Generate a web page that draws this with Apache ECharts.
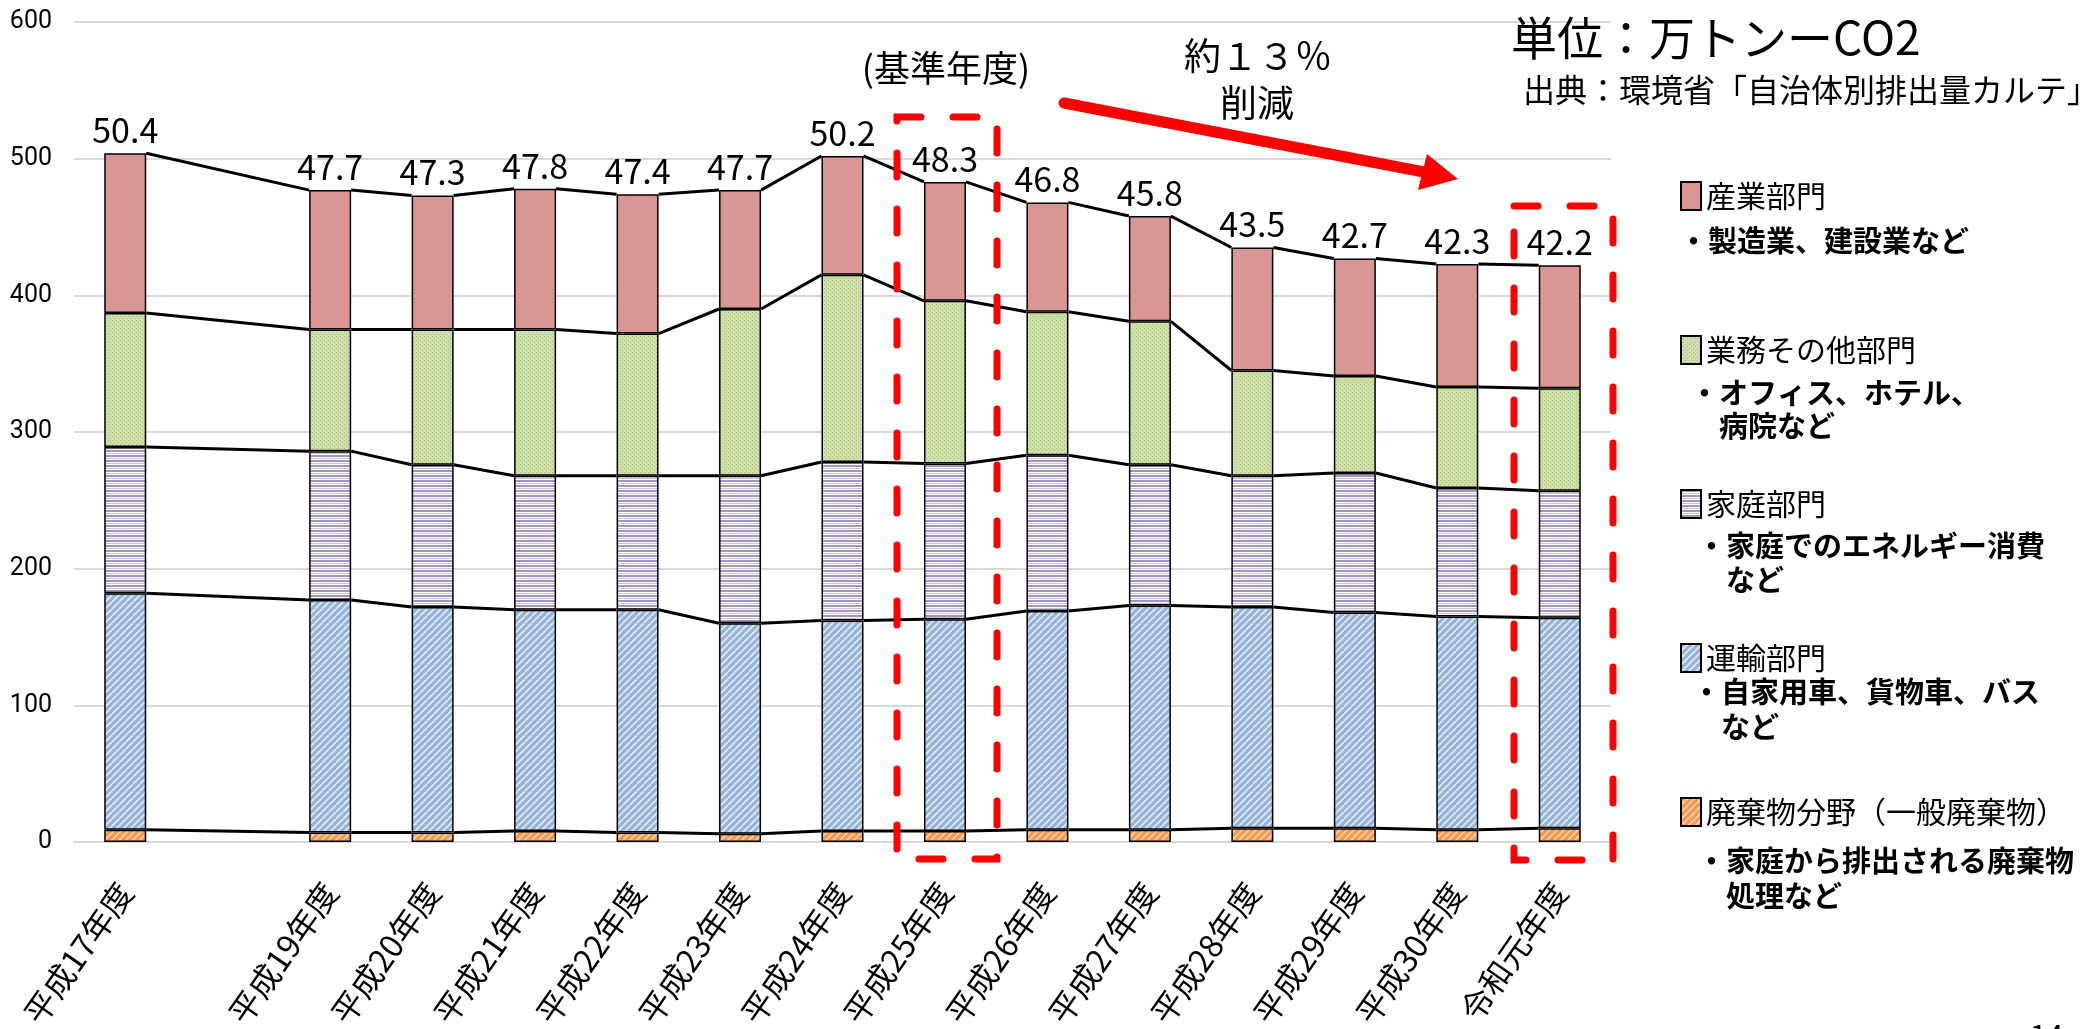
<!DOCTYPE html>
<html lang="ja">
<head>
<meta charset="utf-8">
<title>部門別CO2排出量の推移</title>
<script src="https://cdn.jsdelivr.net/npm/echarts@6/dist/echarts.min.js"></script>
<style>
  html, body { margin: 0; padding: 0; background: #fff; }
  #chart { width: 2090px; height: 1029px; }
</style>
</head>
<body>
<div id="chart"></div>
<script>
// 年度（平成18年度はデータなし・ラベルなし）
const years = ['平成17年度', '平成18年度', '平成19年度', '平成20年度', '平成21年度', '平成22年度',
  '平成23年度', '平成24年度', '平成25年度', '平成26年度', '平成27年度', '平成28年度',
  '平成29年度', '平成30年度', '令和元年度'];
const hiddenYears = ['平成18年度'];

// 部門別排出量（千トン-CO2）
const waste      = [9, null, 7, 7, 8, 7, 6, 8, 8, 9, 9, 10, 10, 9, 10];
const transport  = [173, null, 170, 165, 162, 163, 154, 154, 155, 160, 164, 162, 158, 156, 154];
const household  = [107, null, 109, 104, 98, 98, 108, 116, 114, 114, 103, 96, 102, 94, 93];
const commercial = [98, null, 89, 99, 107, 104, 122, 137, 119, 105, 105, 77, 71, 74, 75];
const industry   = [117, null, 102, 98, 103, 102, 87, 87, 87, 80, 77, 90, 86, 90, 90];

// 合計（万トン-CO2）
const totals = ['50.4', null, '47.7', '47.3', '47.8', '47.4', '47.7', '50.2', '48.3', '46.8',
  '45.8', '43.5', '42.7', '42.3', '42.2'];

// 凡例の説明
const notes = {
  '産業部門': ['・製造業、建設業など'],
  '業務その他部門': ['・オフィス、ホテル、', '病院など'],
  '家庭部門': ['・家庭でのエネルギー消費', 'など'],
  '運輸部門': ['・自家用車、貨物車、バス', 'など'],
  '廃棄物分野（一般廃棄物）': ['・家庭から排出される廃棄物', '処理など']
};

const BAR_W = 42;
const JP = '"Noto Sans CJK JP", "Noto Sans", sans-serif';

// 模様（ハッチング）
function pattern(w, h, draw) {
  const c = document.createElement('canvas');
  c.width = w;
  c.height = h;
  draw(c.getContext('2d'), w, h);
  return { image: c, repeat: 'repeat' };
}
const fillIndustry = '#D99694';
const fillCommercial = pattern(4, 4, (ctx) => {
  ctx.fillStyle = '#CFE0AE';
  ctx.fillRect(0, 0, 4, 4);
  ctx.fillStyle = '#A3BE6E';
  ctx.fillRect(0, 0, 1, 1);
  ctx.fillRect(2, 2, 1, 1);
});
const fillHousehold = pattern(4, 5, (ctx) => {
  ctx.fillStyle = '#FFFFFF';
  ctx.fillRect(0, 0, 4, 5);
  ctx.fillStyle = '#A393C0';
  ctx.fillRect(0, 0, 4, 2);
  ctx.fillStyle = '#CBC0DE';
  ctx.fillRect(0, 3, 4, 1);
});
function diag(bg, fg) {
  return pattern(7, 7, (ctx, w, h) => {
    ctx.fillStyle = bg;
    ctx.fillRect(0, 0, w, h);
    ctx.strokeStyle = fg;
    ctx.lineWidth = 1.6;
    [-w, 0, w].forEach((dx) => {
      ctx.beginPath();
      ctx.moveTo(dx, h);
      ctx.lineTo(dx + w, 0);
      ctx.stroke();
    });
  });
}
const fillTransport = diag('#96B4D8', '#E4ECF6');
const fillWaste = diag('#F59A4E', '#FBD3AF');

const layers = [
  { name: '廃棄物分野（一般廃棄物）', data: waste, color: fillWaste },
  { name: '運輸部門', data: transport, color: fillTransport },
  { name: '家庭部門', data: household, color: fillHousehold },
  { name: '業務その他部門', data: commercial, color: fillCommercial },
  { name: '産業部門', data: industry, color: fillIndustry }
];

// 積み上げ位置（系列線用）
function cumAt(i, level) {
  let s = 0;
  for (let k = 0; k <= level; k++) s += layers[k].data[i];
  return s;
}
const barIndex = years.map((y, i) => (waste[i] == null ? null : i)).filter((i) => i != null);
const links = [];
for (let k = 0; k < barIndex.length - 1; k++) links.push([barIndex[k], barIndex[k + 1]]);

const chart = echarts.init(document.getElementById('chart'));

const barSeries = layers.map((l, idx) => ({
  name: l.name,
  type: 'bar',
  stack: 'total',
  barWidth: BAR_W,
  data: l.data,
  itemStyle: { color: l.color, borderColor: '#000', borderWidth: 1.5 },
  label: idx === layers.length - 1 ? {
    show: true,
    position: 'top',
    distance: 6,
    color: '#000',
    fontSize: 34,
    fontFamily: JP,
    formatter: (p) => totals[p.dataIndex]
  } : { show: false }
}));

const lineSeries = {
  type: 'custom',
  silent: true,
  z: 5,
  data: links,
  encode: { x: 0, y: 1 },
  renderItem: (params, api) => {
    const a = api.value(0);
    const b = api.value(1);
    const children = [];
    for (let lv = 0; lv < layers.length; lv++) {
      const p1 = api.coord([a, cumAt(a, lv)]);
      const p2 = api.coord([b, cumAt(b, lv)]);
      children.push({
        type: 'line',
        shape: { x1: p1[0] + BAR_W / 2, y1: p1[1], x2: p2[0] - BAR_W / 2, y2: p2[1] },
        style: { stroke: '#000', lineWidth: 3 }
      });
    }
    return { type: 'group', children };
  }
};

function txt(text, x, y, size, opts) {
  opts = opts || {};
  return {
    type: 'text',
    x: x,
    y: y,
    z: 100,
    style: {
      text: text,
      fill: '#000',
      fontSize: size,
      fontFamily: JP,
      fontWeight: opts.bold ? 'bold' : 'normal',
      align: opts.align || 'left',
      textAlign: opts.align || 'left',
      verticalAlign: 'middle',
      textVerticalAlign: 'middle'
    }
  };
}

function dashedBox(x, y, w, h) {
  return {
    type: 'rect',
    z: 100,
    shape: { x: x, y: y, width: w, height: h },
    style: { fill: 'none', stroke: '#FF0000', lineWidth: 7, lineDash: [24, 32], lineCap: 'round' }
  };
}

// 凡例の説明文
const noteRows = [
  { key: '産業部門', x: 1708, y: [241] },
  { key: '業務その他部門', x: 1719, y: [393, 426] },
  { key: '家庭部門', x: 1726, y: [546, 580] },
  { key: '運輸部門', x: 1721, y: [692, 727] },
  { key: '廃棄物分野（一般廃棄物）', x: 1726, y: [861, 896] }
];
const noteTexts = [];
noteRows.forEach((r) => {
  notes[r.key].forEach((line, j) => {
    const x = line.startsWith('・') ? r.x - 29 : r.x;
    noteTexts.push(txt(line, x, r.y[j], 29, { bold: true }));
  });
});

const option = {
  backgroundColor: '#fff',
  animation: false,
  grid: { left: 74, right: 479, top: 22, bottom: 187, containLabel: false, outerBoundsMode: 'none' },
  legend: {
    orient: 'vertical',
    left: 1675,
    top: 176,
    itemWidth: 20,
    itemHeight: 28,
    itemGap: 124,
    icon: 'rect',
    selectedMode: false,
    data: ['産業部門', '業務その他部門', '家庭部門', '運輸部門', '廃棄物分野（一般廃棄物）'],
    formatter: (name) => '{t|' + name + '}',
    textStyle: {
      color: '#000',
      fontSize: 30,
      fontFamily: JP,
      rich: { t: { color: '#000', fontSize: 30, fontFamily: JP, lineHeight: 36 } }
    }
  },
  xAxis: {
    type: 'category',
    data: years,
    boundaryGap: true,
    axisTick: { show: false },
    axisLine: { show: true, lineStyle: { color: '#D9D9D9', width: 2 } },
    axisLabel: {
      interval: 0,
      rotate: 55,
      margin: 44,
      color: '#000',
      fontSize: 32,
      fontFamily: JP,
      formatter: (v) => (hiddenYears.includes(v) ? '' : v)
    }
  },
  yAxis: {
    type: 'value',
    min: 0,
    max: 600,
    interval: 100,
    axisLine: { show: false },
    axisTick: { show: false },
    axisLabel: { color: '#000', fontSize: 25, margin: 22, fontFamily: 'Roboto, sans-serif' },
    splitLine: { show: true, lineStyle: { color: '#D9D9D9', width: 2 } }
  },
  graphic: [
    txt('単位：万トンーCO2', 1511, 38, 46),
    txt('出典：環境省「自治体別排出量カルテ」', 1523, 90, 32),
    txt('(基準年度)', 946, 68, 36, { align: 'center' }),
    txt('約１３％', 1258, 56, 37, { align: 'center' }),
    txt('削減', 1257, 103, 37, { align: 'center' }),
    {
      type: 'line', z: 100,
      shape: { x1: 1064, y1: 103, x2: 1424, y2: 172 },
      style: { stroke: '#FF0000', lineWidth: 11, lineCap: 'round' }
    },
    {
      type: 'polygon', z: 100,
      shape: { points: [[1427, 154], [1458, 179], [1418, 190]] },
      style: { fill: '#FF0000' }
    },
    dashedBox(897, 117, 100, 742),
    dashedBox(1514, 206, 99, 654),
    txt('14', 2030, 1036, 30)
  ].concat(noteTexts),
  series: barSeries.concat([lineSeries])
};

chart.setOption(option);
window.addEventListener('resize', () => chart.resize());
</script>
</body>
</html>
